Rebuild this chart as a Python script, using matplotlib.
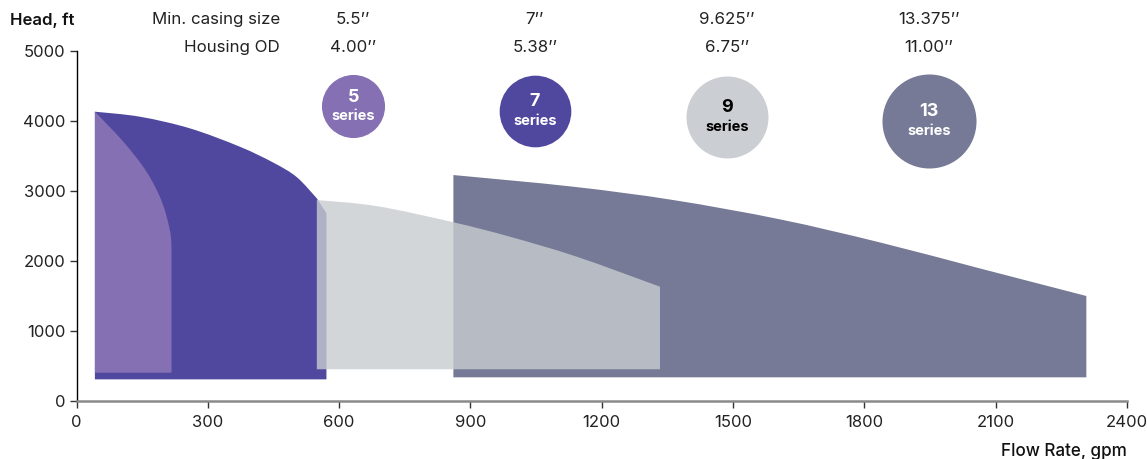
import numpy as np
import matplotlib
matplotlib.use("Agg")
import matplotlib.pyplot as plt
from matplotlib.path import Path
from matplotlib.patches import PathPatch

plt.rcParams['font.family'] = ['Inter', 'DejaVu Sans']

# operating envelopes: top curve (flow, head) plus the floor head of each series
s7_flow = [42, 145, 259, 373, 450, 503, 549]
s7_head = [4129, 4057, 3891, 3629, 3400, 3195, 2891]
s7_edge = (571, 2677)
s7_floor = 305

s5_flow = [42, 107, 160, 195, 214, 217]
s5_head = [4129, 3700, 3271, 2843, 2414, 2150]
s5_floor = 400

s9_flow = [549, 686, 861, 990, 1143, 1333]
s9_head = [2867, 2780, 2549, 2343, 2057, 1629]
s9_floor = 449

s13_flow = [861, 1135, 1363, 1607, 1835, 2063, 2307]
s13_head = [3224, 3057, 2867, 2591, 2262, 1891, 1496]
s13_floor = 334

# header table
series_names = ["5", "7", "9", "13"]
casing_sizes = ["5.5’’", "7’’", "9.625’’", "13.375’’"]
housing_od = ["4.00’’", "5.38’’", "6.75’’", "11.00’’"]
label_flow = [632, 1047, 1486, 1947]
label_head = [4206, 4141, 4053, 3996]

x_ticks = list(range(0, 2401, 300))
y_ticks = list(range(0, 5001, 1000))

c5 = "#8470b2"
c7 = "#50489e"
c9 = "#c8ccd0"
c13 = "#767a96"


def smooth_top(flow, head):
    # bezier pieces through the read points (catmull-rom style handles)
    p = np.column_stack([flow, head]).astype(float)
    ext = np.vstack([p[0], p, p[-1]])
    verts, codes = [], []
    for i in range(len(p) - 1):
        a, b = ext[i + 1], ext[i + 2]
        c1 = a + (ext[i + 2] - ext[i]) / 6
        c2 = b - (ext[i + 3] - ext[i + 1]) / 6
        verts += [c1, c2, b]
        codes += [Path.CURVE4] * 3
    return verts, codes


def envelope(ax, flow, head, floor, color, alpha=1.0, extra=None):
    verts = [(flow[0], floor), (flow[0], head[0])]
    codes = [Path.MOVETO, Path.LINETO]
    v, c = smooth_top(flow, head)
    verts += v
    codes += c
    x_end = flow[-1]
    if extra is not None:
        verts.append(extra)
        codes.append(Path.LINETO)
        x_end = extra[0]
    verts += [(x_end, floor), (flow[0], floor)]
    codes += [Path.LINETO, Path.CLOSEPOLY]
    ax.add_patch(PathPatch(Path(verts, codes), facecolor=color, alpha=alpha, lw=0))


fig = plt.figure(figsize=(11.47, 4.59), dpi=100)
ax = fig.add_axes([0.0667, 0.127, 0.9159, 0.7625])

envelope(ax, s7_flow, s7_head, s7_floor, c7, extra=s7_edge)
envelope(ax, s5_flow, s5_head, s5_floor, c5)
envelope(ax, s13_flow, s13_head, s13_floor, c13)
envelope(ax, s9_flow, s9_head, s9_floor, c9, alpha=0.8)

ax.set_xlim(0, 2400)
ax.set_ylim(0, 5000)
ax.set_xticks(x_ticks)
ax.set_yticks(y_ticks)
ax.tick_params(axis='both', length=5, width=1, color='#333333', labelsize=12, labelcolor='#222222')
ax.tick_params(axis='x', pad=5)
ax.tick_params(axis='y', pad=3)
for s in ['top', 'right']:
    ax.spines[s].set_visible(False)
ax.spines['left'].set_color('black')
ax.spines['left'].set_linewidth(1)
ax.spines['bottom'].set_color('#8a8a8a')
ax.spines['bottom'].set_linewidth(1.8)

# header rows
hdr = dict(fontsize=12.2, color='#222222', va='center', clip_on=False)
ax.text(465, 5439, "Min. casing size", ha='right', **hdr)
ax.text(465, 5053, "Housing OD", ha='right', **hdr)
for x, cs, od in zip(label_flow, casing_sizes, housing_od):
    ax.text(x, 5439, cs, ha='center', **hdr)
    ax.text(x, 5053, od, ha='center', **hdr)

# series badges
badge_colors = [c5, c7, "#cbced2", c13]
badge_text = ["white", "white", "black", "white"]
badge_size = [45.4, 51.6, 59.0, 67.7]
for name, x, y, bc, tc, d in zip(series_names, label_flow, label_head, badge_colors, badge_text, badge_size):
    ax.scatter([x], [y], s=d ** 2, color=bc, lw=0, zorder=5, clip_on=False)
    ax.annotate(name, (x, y), xytext=(0, 6.5), textcoords='offset points', ha='center', va='center',
                fontsize=13, fontweight='bold', color=tc, zorder=6)
    ax.annotate("series", (x, y), xytext=(0, -7), textcoords='offset points', ha='center', va='center',
                fontsize=10.5, fontweight='bold', color=tc, zorder=6)

fig.text(10 / 1147, 1 - 20 / 459, "Head, ft", ha='left', va='center', fontsize=12, fontweight='semibold', color='#111111')
fig.text(1127 / 1147, 1 - 451 / 459, "Flow Rate, gpm", ha='right', va='center', fontsize=12.3, fontweight='medium', color='#111111')

fig.savefig("out.png", dpi=100)
